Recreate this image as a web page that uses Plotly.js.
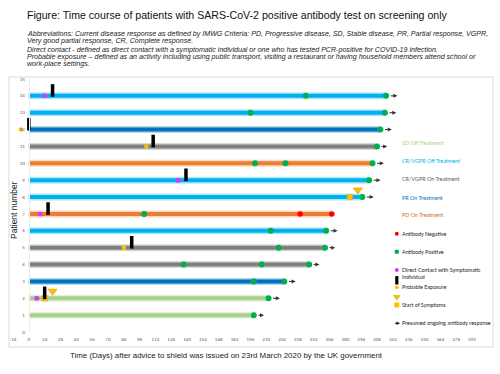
<!DOCTYPE html>
<html>
<head>
<meta charset="utf-8">
<script src="https://cdn.plot.ly/plotly-3.0.1.min.js"></script>
<style>html,body{margin:0;padding:0;background:#fff;}#chart{width:500px;height:374px;}</style>
</head>
<body>
<div id="chart"></div>
<script>
// ---------------- DATA ----------------
const rowNum    = [1,2,3,4,5,6,7,8,9,10,11,12,13,14];
const rowStatus = ['SD Off','SD Off','PR On','CR/VGPR On','CR/VGPR On','CR/VGPR Off','PD On',
                   'CR/VGPR Off','CR/VGPR Off','PD On','CR/VGPR On','PR On','CR/VGPR Off','CR/VGPR Off'];
const barEnd    = [199,212,226,248,262,263,268,295,301,304,308,311,315,316];
const arrowEnd  = [208,222,236,257,271,273,null,305,311,314,317,321,325,326];

const posRow = [1,2,3,3,4,4,4,5,5,6,6,7,8,9,10,10,10,11,12,13,13,14,14];
const posDay = [199,212,199,226,137,206,248,221,262,214,263,102,295,301,200,227,304,308,311,196,315,245,316];

const negRow = [7,7];
const negDay = [240,268];

const contactRow = [2,7,9,14];
const contactDay = [7,10,132,14];

const blackRow = [2,5,7,9,11,12,14];
const blackDay = [14,91,17,139,110,0,21];

const exposureRow = [5,11,12];
const exposureDay = [84,104,-7];

const symptomRow = [2,8];
const symptomDay = [21,291];

const squareRow = [2,8];
const squareDay = [14,284];

const xTicks = [];
for (let t = -14; t <= 392; t += 14) xTicks.push(t);
const yTicks = [0,1,2,3,4,5,6,7,8,9,10,11,12,13,14,15];

const statusOrder = ['SD Off','CR/VGPR Off','CR/VGPR On','PR On','PD On'];
const statusLabel = ['SD Off Treatment','CR/VGPR Off Treatment','CR/VGPR On Treatment','PR On Treatment','PD On Treatment'];

const titleText = 'Figure: Time course of patients with SARS-CoV-2 positive antibody test on screening only';
const noteLines = [
  'Abbreviations: Current disease response as defined by IMWG Criteria: PD, Progressive disease, SD, Stable disease, PR, Partial response, VGPR,',
  'Very good partial response, CR, Complete response.',
  'Direct contact - defined as direct contact with a symptomatic individual or one who has tested PCR-positive for COVID-19 infection.',
  'Probable exposure \u2013 defined as an activity including using public transport, visiting a restaurant or having household members attend school or',
  'work-place settings.'
];
const xTitle = 'Time (Days) after advice to shield was issued on 23rd March 2020 by the UK government';
const yTitle = 'Patient number';

// ---------------- STYLES ----------------
const statusColor = {
  'SD Off':'#A9D18E', 'CR/VGPR Off':'#00B0F0', 'CR/VGPR On':'#7F7F7F', 'PR On':'#0070C0', 'PD On':'#ED7D31'
};
const statusTextColor = {
  'SD Off':'#A9D18E', 'CR/VGPR Off':'#00B0F0', 'CR/VGPR On':'#595959', 'PR On':'#0070C0', 'PD On':'#D2691E'
};
const C_POS='#00B050', C_NEG='#FF0000', C_CONTACT='#D63DF2', C_YEL='#FFC000';
const LF = 'Lato, "Liberation Sans", sans-serif';
const AF = '"Liberation Sans", Arial, sans-serif';

const L=13, R=28, T=79, B=42, W=500, H=374;
const PW = W-L-R, PH = H-T-B;
const px = v => (v-L)/PW;           // pixel x -> paper
const py = v => (H-B-v)/PH;         // pixel y -> paper

const traces = [];
// bars
rowNum.forEach((r,i)=>{
  const col = statusColor[rowStatus[i]];
  traces.push({x:[0,barEnd[i]], y:[r,r], mode:'lines', line:{color:col,width:7}, opacity:0.3, hoverinfo:'skip', showlegend:false});
  traces.push({x:[0,barEnd[i]], y:[r,r], mode:'lines', line:{color:col,width:4}, hoverinfo:'skip', showlegend:false});
});
// markers
traces.push({x:contactDay, y:contactRow, mode:'markers', marker:{color:C_CONTACT,size:5}, showlegend:false, cliponaxis:false});
traces.push({x:exposureDay, y:exposureRow, mode:'markers', marker:{color:C_YEL,size:4.5}, showlegend:false, cliponaxis:false});
traces.push({x:squareDay, y:squareRow, mode:'markers', marker:{color:C_YEL,size:5.5,symbol:'square',line:{color:'#E6A800',width:0.5}}, showlegend:false, cliponaxis:false});
traces.push({x:blackDay, y:blackRow.map(r=>r+0.32), mode:'markers', marker:{symbol:'line-ns',size:9,line:{color:'#000',width:3.5}}, showlegend:false, cliponaxis:false});
traces.push({x:symptomDay, y:symptomRow.map(r=>r+0.42), mode:'markers', marker:{symbol:'triangle-down',size:8,color:C_YEL,line:{color:'#D9A000',width:0.6}}, showlegend:false, cliponaxis:false});
traces.push({x:posDay, y:posRow, mode:'markers', marker:{color:C_POS,size:6}, showlegend:false, cliponaxis:false});
traces.push({x:negDay, y:negRow, mode:'markers', marker:{color:C_NEG,size:5.5}, showlegend:false, cliponaxis:false});

const annotations = [];
// arrows
rowNum.forEach((r,i)=>{
  if (arrowEnd[i]===null) return;
  annotations.push({x:arrowEnd[i], y:r, ax:barEnd[i], ay:r, xref:'x', yref:'y', axref:'x', ayref:'y',
    showarrow:true, text:'', arrowhead:2, arrowsize:0.8, arrowwidth:1, arrowcolor:'#333', startstandoff:3});
});
// title and notes
annotations.push({xref:'paper', yref:'paper', x:px(25), y:py(15), text:titleText, showarrow:false, xanchor:'left', yanchor:'middle',
  font:{family:AF, size:10.6, color:'#111'}});
const noteY = [34,41,49.5,57,64];
noteLines.forEach((t,i)=>annotations.push({xref:'paper', yref:'paper', x:px(25), y:py(noteY[i]), text:'<i>'+t+'</i>', showarrow:false,
  xanchor:'left', yanchor:'middle', font:{family:AF, size:7.1, color:'#222'}}));
// axis titles
annotations.push({xref:'paper', yref:'paper', x:px(226), y:py(355), text:xTitle, showarrow:false, xanchor:'center', yanchor:'middle',
  font:{family:AF, size:7.9, color:'#222'}});
annotations.push({xref:'paper', yref:'paper', x:px(14), y:py(210), text:yTitle, showarrow:false, textangle:-90, xanchor:'center', yanchor:'middle',
  font:{family:AF, size:8.5, color:'#222'}});
// legend texts
const legY = [143.3,161,179.3,197.7,215.3];
statusOrder.forEach((s,i)=>annotations.push({xref:'paper', yref:'paper', x:px(400), y:py(legY[i]), text:statusLabel[i], showarrow:false,
  xanchor:'left', yanchor:'middle', font:{family:LF, size:5.4, color:statusTextColor[s]}}));
const otherLeg = [['Antibody Negative',233.7],['Antibody Positive',251.7],['Direct Contact with Symptomatic',270],
  ['Individual',276.7],['Probable Exposure',287.3],['Start of Symptoms',305],['Presumed ongoing antibody response',323.3]];
otherLeg.forEach(o=>annotations.push({xref:'paper', yref:'paper', x:px(400), y:py(o[1]), text:o[0], showarrow:false,
  xanchor:'left', yanchor:'middle', font:{family:LF, size:5.4, color:'#222'}}));
annotations.push({xref:'paper', yref:'paper', axref:'pixel', ayref:'pixel', x:px(400), y:py(323.3), ax:-6.5, ay:0, showarrow:true, text:'',
  arrowhead:2, arrowsize:0.7, arrowwidth:1, arrowcolor:'#222'});

// legend markers (pixel overlay axes)
const lg = (x,y,m)=>({x:[x], y:[y], xaxis:'x2', yaxis:'y2', mode:'markers', marker:m, showlegend:false, cliponaxis:false, hoverinfo:'skip'});
traces.push(lg(396.8,233.7,{color:C_NEG,size:4}));
traces.push(lg(396.8,251.7,{color:C_POS,size:4.5}));
traces.push(lg(396.8,270,{color:C_CONTACT,size:4}));
traces.push(lg(396.8,280.3,{symbol:'line-ns',size:6,line:{color:'#000',width:3.2}}));
traces.push(lg(396.8,287.3,{color:C_YEL,size:3.8}));
traces.push(lg(396.8,297,{symbol:'triangle-down',size:6,color:C_YEL,line:{color:'#D9A000',width:0.5}}));
traces.push(lg(396.8,305,{symbol:'square',size:5,color:C_YEL}));

const layout = {
  width:W, height:H, margin:{l:L, r:R, t:T, b:B, pad:0},
  paper_bgcolor:'#fff', plot_bgcolor:'rgba(0,0,0,0)', showlegend:false,
  xaxis:{range:[-14,392], tickvals:xTicks, ticktext:xTicks.map(String), showgrid:false, zeroline:false, showline:false,
    ticks:'outside', ticklen:3, tickcolor:'rgba(0,0,0,0)', tickfont:{family:LF, size:4.5, color:'#595959'}, fixedrange:true},
  yaxis:{range:[0,15], tickvals:yTicks, showgrid:false, zeroline:false, anchor:'free', position:14/406,
    showline:true, linecolor:'#ececec', linewidth:1,
    ticks:'outside', ticklen:3, tickcolor:'rgba(0,0,0,0)', tickfont:{family:LF, size:4.5, color:'#595959'}, fixedrange:true},
  xaxis2:{overlaying:'x', range:[L, W-R], visible:false, fixedrange:true},
  yaxis2:{overlaying:'y', range:[H-B, T], visible:false, fixedrange:true},
  shapes:[{type:'rect', xref:'paper', yref:'paper', x0:px(9), x1:px(493), y0:py(347), y1:py(77), line:{color:'#d9d9d9', width:1}, fillcolor:'rgba(0,0,0,0)', layer:'below'}],
  annotations:annotations
};
Plotly.newPlot('chart', traces, layout, {displayModeBar:false, staticPlot:true});
</script>
</body>
</html>
